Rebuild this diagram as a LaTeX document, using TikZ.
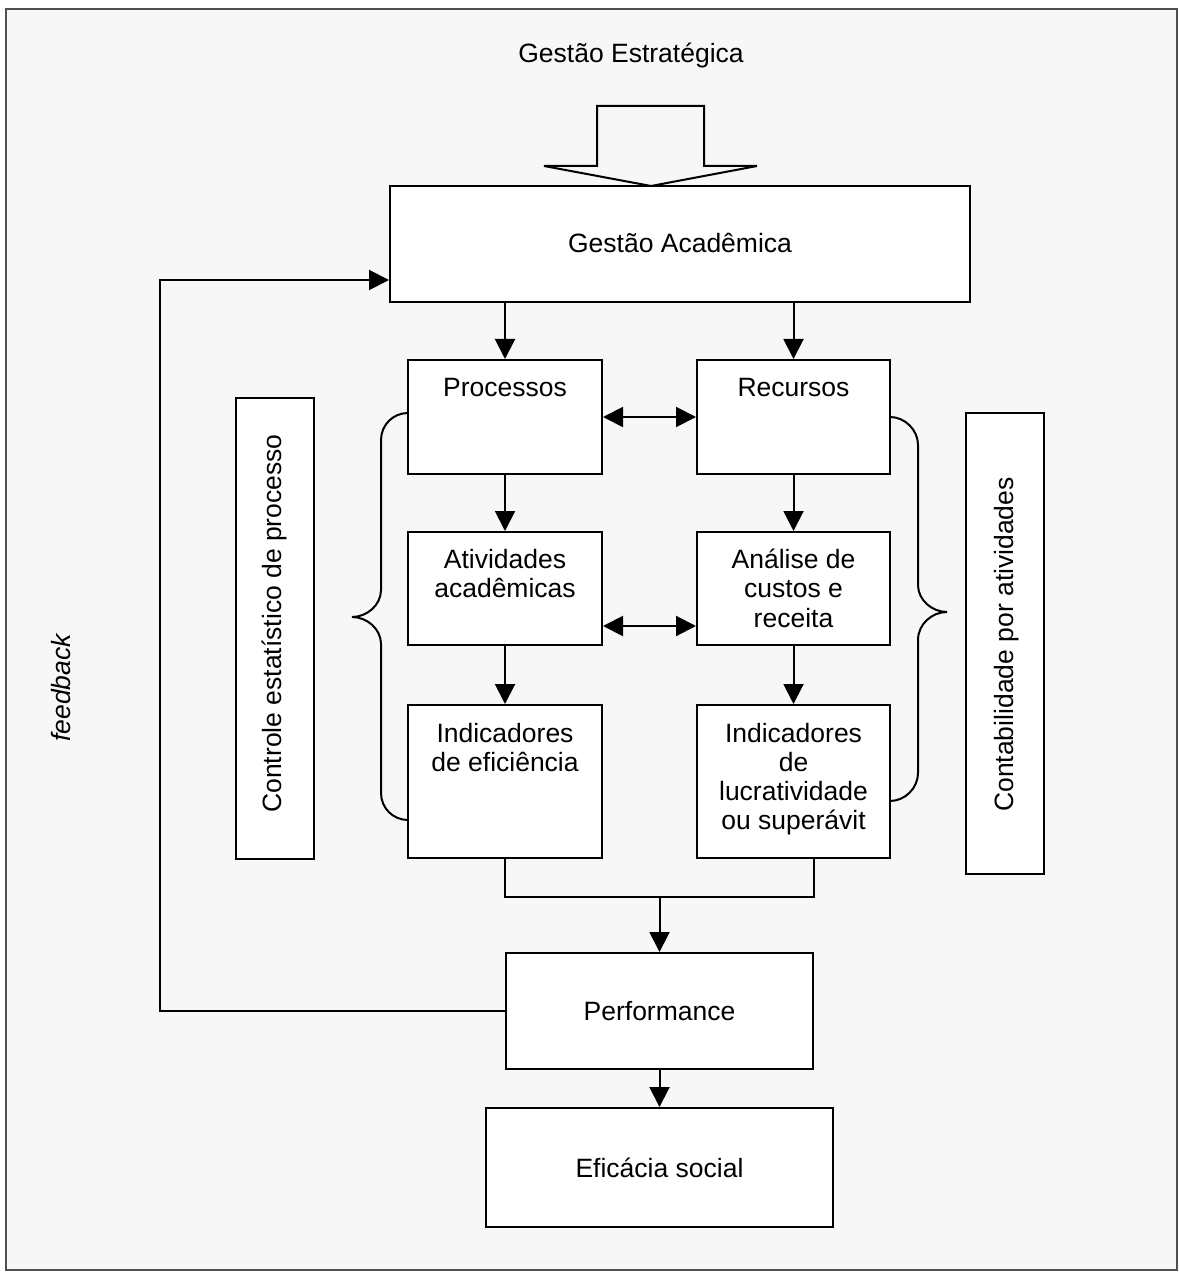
\documentclass[tikz,border=0pt]{standalone}
\usepackage{fontspec}
\setmainfont{Liberation Sans}
\usetikzlibrary{arrows.meta,calc}
\definecolor{bgc}{HTML}{F7F7F7}
\definecolor{framec}{HTML}{505050}
\begin{document}
\begin{tikzpicture}[x=0.5pt,y=-0.5pt,
  every node/.style={font=\fontsize{13.25pt}{14.65pt}\selectfont, inner sep=0pt},
  box/.style={draw=black, fill=white, line width=1pt},
  txt/.style={anchor=base, align=center},
  line/.style={draw=black, line width=1pt},
  arr/.style={line, -{Triangle[length=10pt,width=10pt]}},
  darr/.style={line, {Triangle[length=10pt,width=10pt]}-{Triangle[length=10pt,width=10pt]}},
  brace/.style={draw=black, line width=1pt}
]
\useasboundingbox (0,0) rectangle (1178,1272);
\fill[white] (0,0) rectangle (1178,1272);
\fill[bgc] (6,9) rectangle (1177,1270);
\draw[framec, line width=1.2pt] (6,9) rectangle (1177,1270);

% title and big arrow
\node[txt] (title) at (631,63) {Gestão Estratégica};
\draw[line] (597,106) -- (597,166) -- (544,166) -- (651,186) -- (757,166) -- (704,166) -- (704,106) -- cycle;

% boxes
\node[box, minimum width=290pt, minimum height=58pt] (GA) at (680,244) {};
\node[txt] (GAt) at (680,253) {Gestão Acadêmica};

\node[box, minimum width=97pt, minimum height=57pt] (Proc) at (505,417) {};
\node[txt] (ProcT) at (505,396.5) {Processos};
\node[box, minimum width=96.5pt, minimum height=57pt] (Recu) at (793.5,417) {};
\node[txt] (RecuT) at (793.5,396.5) {Recursos};

\node[box, minimum width=97pt, minimum height=56.5pt] (Ativ) at (505,588.5) {};
\node[txt] (AtivT) at (505,568.5) {\begin{tabular}[t]{@{}c@{}}Atividades\\acadêmicas\end{tabular}};
\node[box, minimum width=96.5pt, minimum height=56.5pt] (Anal) at (793.5,588.5) {};
\node[txt] (AnalT) at (793.5,568.5) {\begin{tabular}[t]{@{}c@{}}Análise de\\custos e\\receita\end{tabular}};

\node[box, minimum width=97pt, minimum height=76.5pt] (IndE) at (505,781.5) {};
\node[txt] (IndET) at (505,742) {\begin{tabular}[t]{@{}c@{}}Indicadores\\de eficiência\end{tabular}};
\node[box, minimum width=96.5pt, minimum height=76.5pt] (IndL) at (793.5,781.5) {};
\node[txt] (IndLT) at (793.5,742) {\begin{tabular}[t]{@{}c@{}}Indicadores\\de\\lucratividade\\ou superávit\end{tabular}};

\node[box, minimum width=153.5pt, minimum height=58pt] (Perf) at (659.5,1011) {};
\node[txt] (PerfT) at (659.5,1020.5) {Performance};
\node[box, minimum width=173.5pt, minimum height=59.5pt] (Efic) at (659.5,1167.5) {};
\node[txt] (EficT) at (659.5,1177) {Eficácia social};

% side boxes
\node[box, minimum width=39pt, minimum height=230.5pt] (Ctrl) at (275,628.5) {};
\node[anchor=base, rotate=90] (CtrlT) at (281,623.5) {Controle estatístico de processo};
\node[box, minimum width=39pt, minimum height=230.5pt] (Cont) at (1005,643.5) {};
\node[anchor=base, rotate=90] (ContT) at (1013,644.5) {Contabilidade por atividades};

\node[anchor=base, rotate=90, font=\fontsize{13.25pt}{14.65pt}\selectfont\itshape] (fbT) at (70,688) {feedback};

% connectors
\draw[arr] (GA.south -| Proc.north) -- (Proc.north);
\draw[arr] (GA.south -| Recu.north) -- (Recu.north);
\draw[darr] (Proc.east) -- (Recu.west);
\draw[arr] (Proc.south) -- (Ativ.north);
\draw[arr] (Recu.south) -- (Anal.north);
\draw[darr] ($(Ativ.south east)+(0,-20)$) -- ($(Anal.south west)+(0,-20)$);
\draw[arr] (Ativ.south) -- (IndE.north);
\draw[arr] (Anal.south) -- (IndL.north);

\coordinate (join) at (659.5,897);
\draw[line] (IndE.south) |- (join) -| (Perf.east |- IndL.south);
\draw[arr] (join) -- (Perf.north);
\draw[arr] (Perf.south) -- (Efic.north);

\coordinate (fb) at (160,1011);
\draw[arr] (Perf.west) -- (fb) |- ($(GA.south west)+(0,-23)$);

% braces
\draw[brace] (408,413) .. controls (393,413) and (381,425) .. (381,440)
  -- (381,590) .. controls (381,605) and (367,617) .. (352,617)
  .. controls (367,617) and (381,629) .. (381,644)
  -- (381,793) .. controls (381,808) and (393,820) .. (408,820);
\draw[brace] (890,417) .. controls (905,417) and (918,430) .. (918,445)
  -- (918,585) .. controls (918,600) and (932,612) .. (947,612)
  .. controls (932,612) and (918,624) .. (918,640)
  -- (918,773) .. controls (918,788) and (905,801) .. (890,801);
\end{tikzpicture}
\end{document}
